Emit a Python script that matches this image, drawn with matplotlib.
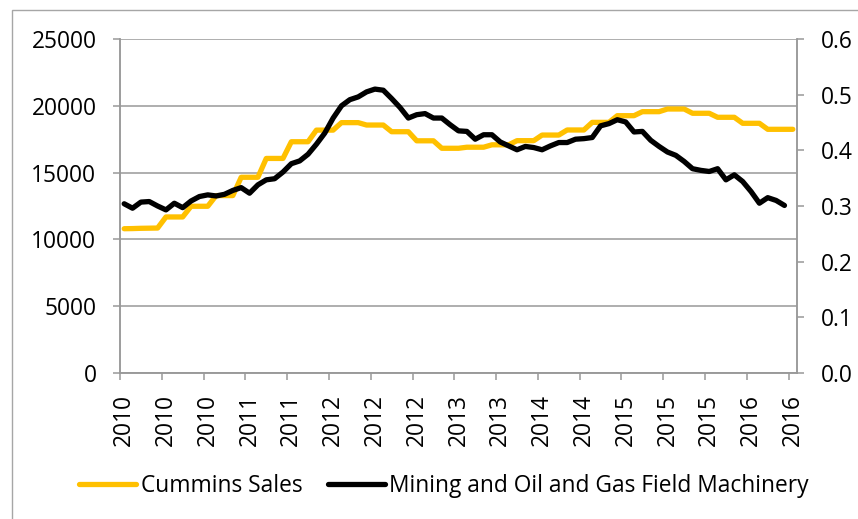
import matplotlib
matplotlib.use("Agg")
import matplotlib.pyplot as plt
from matplotlib.patches import Rectangle

# monthly points, Jan 2010 .. Sep 2016
cummins_sales = [10800, 10810, 10830, 10840, 10850,
                 11680, 11680, 11680, 12480, 12480, 12480,
                 13280, 13280, 13280, 14650, 14650, 14650,
                 16060, 16060, 16060, 17310, 17310, 17310,
                 18180, 18180, 18180, 18740, 18740, 18740,
                 18560, 18560, 18560, 18060, 18060, 18060,
                 17380, 17380, 17380, 16820, 16820, 16820,
                 16900, 16900, 16900, 17080, 17080, 17080,
                 17390, 17390, 17390, 17810, 17810, 17810,
                 18190, 18190, 18190, 18760, 18760, 18760,
                 19260, 19260, 19260, 19560, 19560, 19560,
                 19760, 19760, 19760, 19440, 19440, 19440,
                 19140, 19140, 19140, 18690, 18690, 18690,
                 18240, 18240, 18240, 18240]

machinery = [0.304, 0.296, 0.307, 0.308, 0.300, 0.293, 0.305, 0.297, 0.309, 0.317,
             0.320, 0.318, 0.321, 0.328, 0.333, 0.323, 0.338, 0.347, 0.349, 0.361,
             0.376, 0.381, 0.393, 0.411, 0.431, 0.458, 0.480, 0.491, 0.496, 0.505,
             0.510, 0.508, 0.493, 0.477, 0.458, 0.464, 0.466, 0.458, 0.458, 0.446,
             0.435, 0.434, 0.420, 0.428, 0.428, 0.415, 0.408, 0.401, 0.407, 0.405,
             0.401, 0.408, 0.414, 0.414, 0.420, 0.421, 0.423, 0.444, 0.448, 0.455,
             0.451, 0.433, 0.434, 0.418, 0.407, 0.397, 0.391, 0.380, 0.367, 0.364,
             0.362, 0.367, 0.347, 0.356, 0.344, 0.326, 0.305, 0.315, 0.310, 0.301]

year_labels = ["2010", "2010", "2010", "2011", "2011", "2012", "2012", "2012", "2013",
               "2013", "2014", "2014", "2015", "2015", "2015", "2016", "2016"]

plt.rcParams['font.family'] = ['Open Sans', 'DejaVu Sans']
fs = 16.4
grid_col = '#999999'

fig = plt.figure(figsize=(8.58, 5.19), dpi=100)
ax = fig.add_axes([120 / 858, 146 / 519, 677 / 858, 334 / 519])
ax2 = ax.twinx()

# outer chart border
fig.patches.append(Rectangle((11.5 / 858, -0.1), 1.2, 1.1 - 9.5 / 519,
                             transform=fig.transFigure, fill=False,
                             edgecolor='#a6a6a6', lw=1.0))

x1 = list(range(len(cummins_sales)))
x2 = list(range(len(machinery)))
ax.plot(x1, cummins_sales, color='#FFC000', lw=3.8, solid_joinstyle='round',
        solid_capstyle='round', label='Cummins Sales')
ax2.plot(x2, machinery, color='#000000', lw=3.8, solid_joinstyle='round',
         solid_capstyle='round', label='Mining and Oil and Gas Field Machinery')

ax.set_xlim(-0.5, len(cummins_sales) - 0.5)
ax.set_ylim(0, 25000)
ax2.set_ylim(0, 0.6)
ax.set_yticks(range(0, 25001, 5000))
ax.set_yticklabels([str(v) for v in range(0, 25001, 5000)])
ax2.set_yticks([i / 10 for i in range(7)])
ax2.set_yticklabels([f"{i / 10:.1f}" for i in range(7)])

ax.yaxis.grid(True, color=grid_col, lw=1.1)
ax.set_axisbelow(True)

major = [5 * k - 0.5 for k in range(len(year_labels))]
minor = [5 * k for k in range(len(year_labels))]
ax.set_xticks(major)
ax.set_xticklabels([])
ax.set_xticks(minor, minor=True)
ax.set_xticklabels(year_labels, minor=True, rotation=90, fontsize=fs)
ax.tick_params(axis='x', which='minor', length=0, pad=15)
ax.tick_params(axis='x', which='major', length=5, width=1.1, color=grid_col)
ax.tick_params(axis='y', length=5, width=1.1, color=grid_col, labelsize=fs, pad=12)
ax2.tick_params(axis='y', length=5, width=1.1, color=grid_col, labelsize=fs, pad=12)

for a in (ax, ax2):
    a.spines['top'].set_visible(False)
    for s in ('left', 'right', 'bottom'):
        a.spines[s].set_color(grid_col)
        a.spines[s].set_linewidth(1.1)

h1, l1 = ax.get_legend_handles_labels()
h2, l2 = ax2.get_legend_handles_labels()
fig.legend(h1 + h2, l1 + l2, loc='center', bbox_to_anchor=(444 / 858, 1 - 486 / 519),
           ncol=2, frameon=False, fontsize=fs, handlelength=2.5, handletextpad=0.2,
           columnspacing=1.1)

fig.savefig('out.png', dpi=100)
